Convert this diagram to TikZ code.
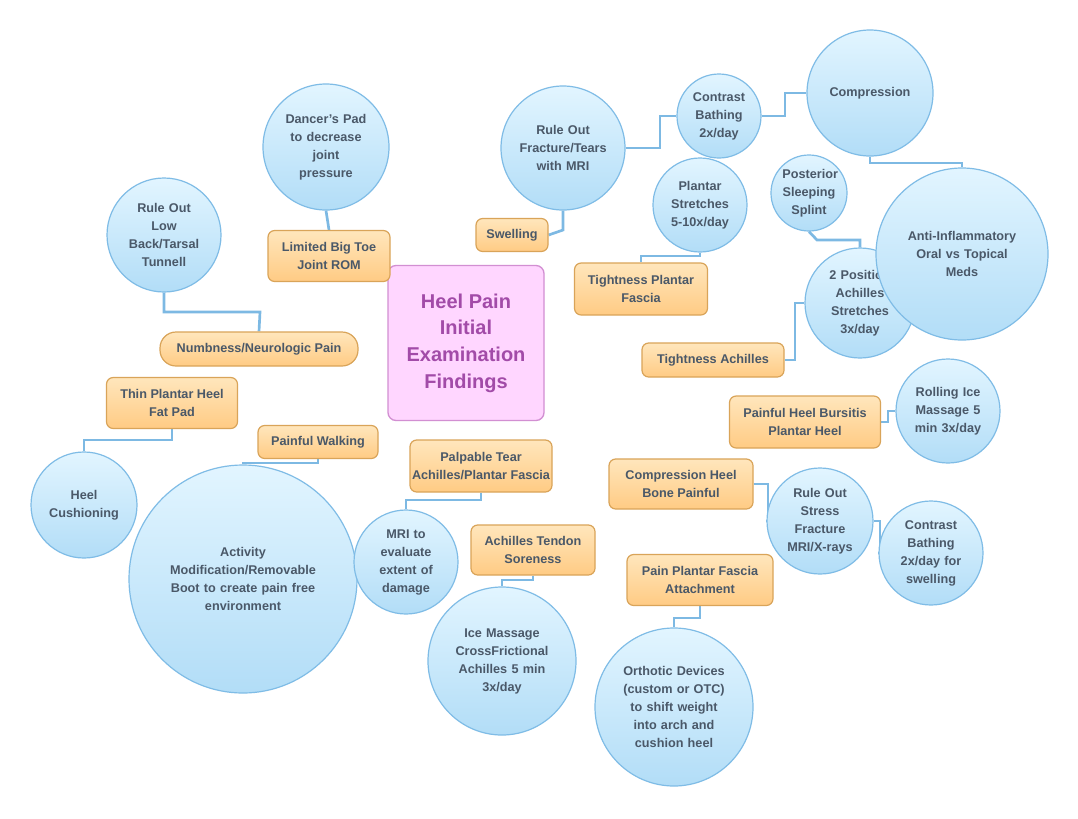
\documentclass[tikz,border=0pt]{standalone}
\usepackage{fontspec}
\setmainfont{Liberation Sans}
\usetikzlibrary{backgrounds}
\definecolor{bubd}{HTML}{7FBCE6}
\definecolor{bubt}{HTML}{E2F5FF}
\definecolor{bubb}{HTML}{B2DDF7}
\definecolor{boxd}{HTML}{D9A459}
\definecolor{boxt}{HTML}{FFE6BC}
\definecolor{boxb}{HTML}{FFCB84}
\definecolor{txt}{HTML}{4A5868}
\definecolor{pinkf}{HTML}{FFD6FF}
\definecolor{pinkd}{HTML}{D28FD2}
\definecolor{pinkt}{HTML}{A24BA8}
\definecolor{lnk}{HTML}{7DB9E3}
\tikzset{
 bub/.style={circle,draw=bubd,line width=0.9pt,top color=bubt,bottom color=bubb,align=center,inner sep=0pt,text=txt,font=\fontsize{9.5}{13.5}\selectfont\bfseries},
 obox/.style={rectangle,rounded corners=5pt,draw=boxd,line width=0.9pt,top color=boxt,bottom color=boxb,align=center,inner sep=1pt,text=txt,font=\fontsize{9.5}{13.5}\selectfont\bfseries},
 lk/.style={draw=lnk,line width=2pt}
}
\newcommand{\bb}[5]{\node[bub,minimum size=#4*1.5pt,text width=#4*1.05pt] (#1) at (#2,#3) {#5};}
\newcommand{\ob}[7]{\node[obox,minimum width=#4*0.75pt,minimum height=#5*0.75pt,rounded corners=#6] (#1) at (#2,#3) {#7};}
\begin{document}
\begin{tikzpicture}[x=0.75pt,y=-0.75pt]
\useasboundingbox (0,0) rectangle (1078,818);
\node[rectangle,rounded corners=6pt,draw=pinkd,line width=1pt,fill=pinkf,minimum width=156*0.75pt,minimum height=155*0.75pt,align=center,text=pinkt,font=\fontsize{15}{20}\selectfont\bfseries] (c) at (466,343) {Heel Pain\\Initial\\Examination\\Findings};
\bb{dp}{326}{147}{63}{Dancer\char"0027 s Pad\\to decrease\\joint\\pressure}
\bb{lb}{164}{235}{57}{Rule Out\\Low\\Back/Tarsal\\Tunnell}
\bb{fr}{563}{148}{62}{Rule Out\\Fracture/Tears\\with MRI}
\bb{cb}{719}{116}{42}{Contrast\\Bathing\\2x/day}
\bb{cp}{870}{93}{63}{Compression}
\bb{ps}{700}{205}{47}{Plantar\\Stretches\\5-10x/day}
\bb{sp}{809}{193}{38}{Posterior\\Sleeping\\Splint}
\bb{ac}{860}{303}{55}{2 Position\\Achilles\\Stretches\\3x/day}
\bb{ai}{962}{254}{86}{Anti-Inflammatory\\Oral vs Topical\\Meds}
\bb{hc}{84}{505}{53}{Heel\\Cushioning}
\bb{am}{243}{579}{114}{Activity\\Modification/Removable\\Boot to create pain free\\environment}
\bb{mri}{406}{562}{52}{MRI to\\evaluate\\extent of\\damage}
\bb{im}{502}{661}{74}{Ice Massage\\CrossFrictional\\Achilles 5 min\\3x/day}
\bb{ri}{948}{411}{52}{Rolling Ice\\Massage 5\\min 3x/day}
\bb{sf}{820}{521}{53}{Rule Out\\Stress\\Fracture\\MRI/X-rays}
\bb{cs}{931}{553}{52}{Contrast\\Bathing\\2x/day for\\swelling}
\bb{or}{674}{707}{79}{Orthotic Devices\\(custom or OTC)\\to shift weight\\into arch and\\cushion heel}
\ob{bt}{329}{256}{122}{51}{5pt}{Limited Big Toe\\Joint ROM}
\ob{sw}{512}{235}{72}{33}{5pt}{Swelling}
\ob{tp}{641}{289}{133}{52}{5pt}{Tightness Plantar\\Fascia}
\ob{nn}{259}{349}{198}{34}{12pt}{Numbness/Neurologic Pain}
\ob{ta}{713}{360}{142}{34}{5pt}{Tightness Achilles}
\ob{fp}{172}{403}{131}{51}{5pt}{Thin Plantar Heel\\Fat Pad}
\ob{pw}{318}{442}{120}{33}{5pt}{Painful Walking}
\ob{pt}{481}{466}{142}{52}{5pt}{Palpable Tear\\Achilles/Plantar Fascia}
\ob{hb}{805}{422}{151}{52}{5pt}{Painful Heel Bursitis\\Plantar Heel}
\ob{ch}{681}{484}{144}{50}{5pt}{Compression Heel\\Bone Painful}
\ob{at}{533}{550}{124}{50}{5pt}{Achilles Tendon\\Soreness}
\ob{pa}{700}{580}{146}{51}{5pt}{Pain Plantar Fascia\\Attachment}
\begin{scope}[on background layer]
\fill[white] (0,0) rectangle (1078,818);
\draw[lk] (dp.south) -- (bt.north);
\draw[lk] (lb.south) -- (164,312) -- (260,312) -- (nn.north);
\draw[lk] (sw.east) -- (563,230) -- (fr.south);
\draw[lk] (fr.east) -- (660,148) -- (660,116) -- (cb.west);
\draw[lk] (cb.east) -- (785,116) -- (785,93) -- (cp.west);
\draw[lk] (cp.south) -- (870,163) -- (962,163) -- (ai.north);
\draw[lk] (ps.south) -- (700,256) -- (641,256) -- (tp.north);
\draw[lk] (sp.south) -- (817,240) -- (860,240) -- (ac.north);
\draw[lk] (ta.east) -- (795,360) -- (795,303) -- (ac.west);
\draw[lk] (fp.south) -- (172,440) -- (84,440) -- (hc.north);
\draw[lk] (pw.south) -- (318,463) -- (243,463) -- (am.north);
\draw[lk] (pt.south) -- (481,500) -- (406,500) -- (mri.north);
\draw[lk] (hb.east) -- (888,422) -- (888,411) -- (ri.west);
\draw[lk] (ch.east) -- (768,484) -- (768,521) -- (sf.west);
\draw[lk] (sf.east) -- (880,521) -- (880,553) -- (cs.west);
\draw[lk] (at.south) -- (533,580) -- (502,580) -- (im.north);
\draw[lk] (pa.south) -- (700,618) -- (674,618) -- (or.north);
\end{scope}
\end{tikzpicture}
\end{document}
